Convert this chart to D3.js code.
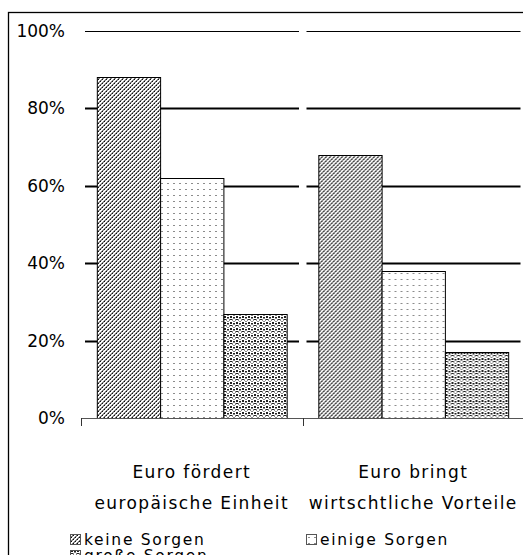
<!DOCTYPE html>
<html>
<head>
<meta charset="utf-8">
<script src="https://cdn.jsdelivr.net/npm/d3@7"></script>
<style>
  html, body { margin: 0; padding: 0; background: #fff; }
  svg { display: block; }
  text { font-family: "DejaVu Sans", sans-serif; fill: #000; }
</style>
</head>
<body>
<svg id="chart" width="523" height="555"></svg>
<script>
// ---- data ----
const categories = ["Euro fördert europäische Einheit", "Euro bringt wirtschtliche Vorteile"];
const categoryLines = [["Euro fördert", "europäische Einheit"], ["Euro bringt", "wirtschtliche Vorteile"]];
const seriesNames = ["keine Sorgen", "einige Sorgen", "große Sorgen"];
const keineSorgen = [88, 68];
const einigeSorgen = [62, 38];
const grosseSorgen = [27, 17];
const yTicks = [0, 20, 40, 60, 80, 100];
const yTickLabels = ["0%", "20%", "40%", "60%", "80%", "100%"];

const seriesValues = [keineSorgen, einigeSorgen, grosseSorgen];
const patternIds = ["pat-keine", "pat-einige", "pat-grosse"];

const svg = d3.select("#chart");
const defs = svg.append("defs");

// pattern 1: upward diagonal hatch (gray + black pixels)
(function () {
  const p = defs.append("pattern").attr("id", "pat-keine")
    .attr("patternUnits", "userSpaceOnUse").attr("width", 4).attr("height", 4);
  p.append("rect").attr("width", 4).attr("height", 4).attr("fill", "#fff");
  for (let i = 0; i < 4; i++) {
    p.append("rect").attr("x", i).attr("y", 3 - i).attr("width", 1).attr("height", 1).attr("fill", "#7a7a7a");
    p.append("rect").attr("x", (i + 1) % 4).attr("y", 3 - i).attr("width", 1).attr("height", 1)
      .attr("fill", i % 2 === 0 ? "#111" : "#8a8a8a");
  }
})();

// pattern 2: sparse gray dashes
(function () {
  const p = defs.append("pattern").attr("id", "pat-einige")
    .attr("patternUnits", "userSpaceOnUse").attr("width", 6).attr("height", 6);
  p.append("rect").attr("width", 6).attr("height", 6).attr("fill", "#fff");
  p.append("rect").attr("x", 2).attr("y", 3).attr("width", 2).attr("height", 1).attr("fill", "#8c8c8c");
})();

// pattern 3: small circle lattice
(function () {
  const p = defs.append("pattern").attr("id", "pat-grosse")
    .attr("patternUnits", "userSpaceOnUse").attr("width", 6).attr("height", 6);
  p.append("rect").attr("width", 6).attr("height", 6).attr("fill", "#fff");
  const px = [[2,0],[3,0],[1,1],[4,1],[1,2],[4,2],[2,3],[3,3]];
  px.forEach(([x, y]) => p.append("rect").attr("x", x).attr("y", y).attr("width", 1).attr("height", 1).attr("fill", "#8a8a8a"));
  const bx = [[0,4],[5,4],[0,5],[5,5],[2,5],[3,5]];
  bx.forEach(([x, y]) => p.append("rect").attr("x", x).attr("y", y).attr("width", 1).attr("height", 1).attr("fill", "#222"));
  p.append("rect").attr("x", 0).attr("y", 1).attr("width", 1).attr("height", 1).attr("fill", "#222");
  p.append("rect").attr("x", 5).attr("y", 1).attr("width", 1).attr("height", 1).attr("fill", "#222");
})();

// frame
svg.append("rect").attr("x", 8.5).attr("y", 12.5).attr("width", 530).attr("height", 560)
  .attr("fill", "none").attr("stroke", "#000").attr("stroke-width", 1.3);

// scales
const x0 = d3.scaleBand().domain(categories).range([81, 524]).paddingInner(0).paddingOuter(0);
const x1 = d3.scaleBand().domain(seriesNames).range([0, x0.bandwidth()]).paddingInner(0).paddingOuter(0.25);
const y = d3.scaleLinear().domain([0, 100]).range([418, 31]);

// gridlines, per category segment
const grid = svg.append("g");
categories.forEach(c => {
  yTicks.filter(t => t > 0).forEach(t => {
    grid.append("line")
      .attr("x1", x0(c) + 4).attr("x2", x0(c) + x0.bandwidth() - 3.5)
      .attr("y1", Math.round(y(t)) + 0.5).attr("y2", Math.round(y(t)) + 0.5)
      .attr("stroke", "#000").attr("stroke-width", t === 100 ? 1.2 : 1.8);
  });
});

// y labels via axis
const yAxis = svg.append("g").attr("transform", "translate(67,0)")
  .call(d3.axisLeft(y).tickValues(yTicks).tickSize(0).tickPadding(2)
    .tickFormat((d, i) => yTickLabels[i]));
yAxis.select(".domain").remove();
yAxis.selectAll("text").style("font-family", "DejaVu Sans, sans-serif").style("font-size", "17px").attr("fill", "#111");

// bars
const groups = svg.append("g").selectAll("g").data(categories).join("g")
  .attr("transform", c => `translate(${x0(c)},0)`);
seriesNames.forEach((s, si) => {
  groups.append("rect")
    .attr("x", x1(s) + 0.5)
    .attr("width", x1.bandwidth())
    .attr("y", (c, ci) => Math.round(y(seriesValues[si][ci])) + 0.5)
    .attr("height", (c, ci) => y(0) - Math.round(y(seriesValues[si][ci])))
    .attr("fill", `url(#${patternIds[si]})`)
    .attr("stroke", "#000").attr("stroke-width", 1);
});

// x axis baseline and boundary ticks
svg.append("line").attr("x1", 81).attr("x2", 524).attr("y1", 418.5).attr("y2", 418.5)
  .attr("stroke", "#555").attr("stroke-width", 1.2);
const boundaries = [x0(categories[0]), x0(categories[1]), x0(categories[1]) + x0.bandwidth()];
boundaries.forEach(b => {
  svg.append("line").attr("x1", Math.round(b) + 0.5).attr("x2", Math.round(b) + 0.5)
    .attr("y1", 418).attr("y2", 426).attr("stroke", "#333").attr("stroke-width", 1);
});

// category labels
categories.forEach((c, ci) => {
  const t = svg.append("text").attr("text-anchor", "middle")
    .attr("x", x0(c) + x0.bandwidth() / 2)
    .attr("y", 478)
    .style("font-size", "17px").style("letter-spacing", "1.4px");
  categoryLines[ci].forEach((ln, li) => {
    t.append("tspan").attr("x", x0(c) + x0.bandwidth() / 2).attr("dy", li === 0 ? 0 : 31).text(ln);
  });
});

// legend
const legendPos = [[70, 534], [306, 534], [70, 550]];
seriesNames.forEach((s, si) => {
  const [lx, ly] = legendPos[si];
  svg.append("rect").attr("x", lx + 0.5).attr("y", ly + 0.5).attr("width", 10).attr("height", 10)
    .attr("fill", `url(#${patternIds[si]})`).attr("stroke", "#555").attr("stroke-width", 1);
  svg.append("text").attr("x", lx + 14).attr("y", ly + 11)
    .style("font-size", "15.5px").style("letter-spacing", "1.7px").text(s);
});
</script>
</body>
</html>
